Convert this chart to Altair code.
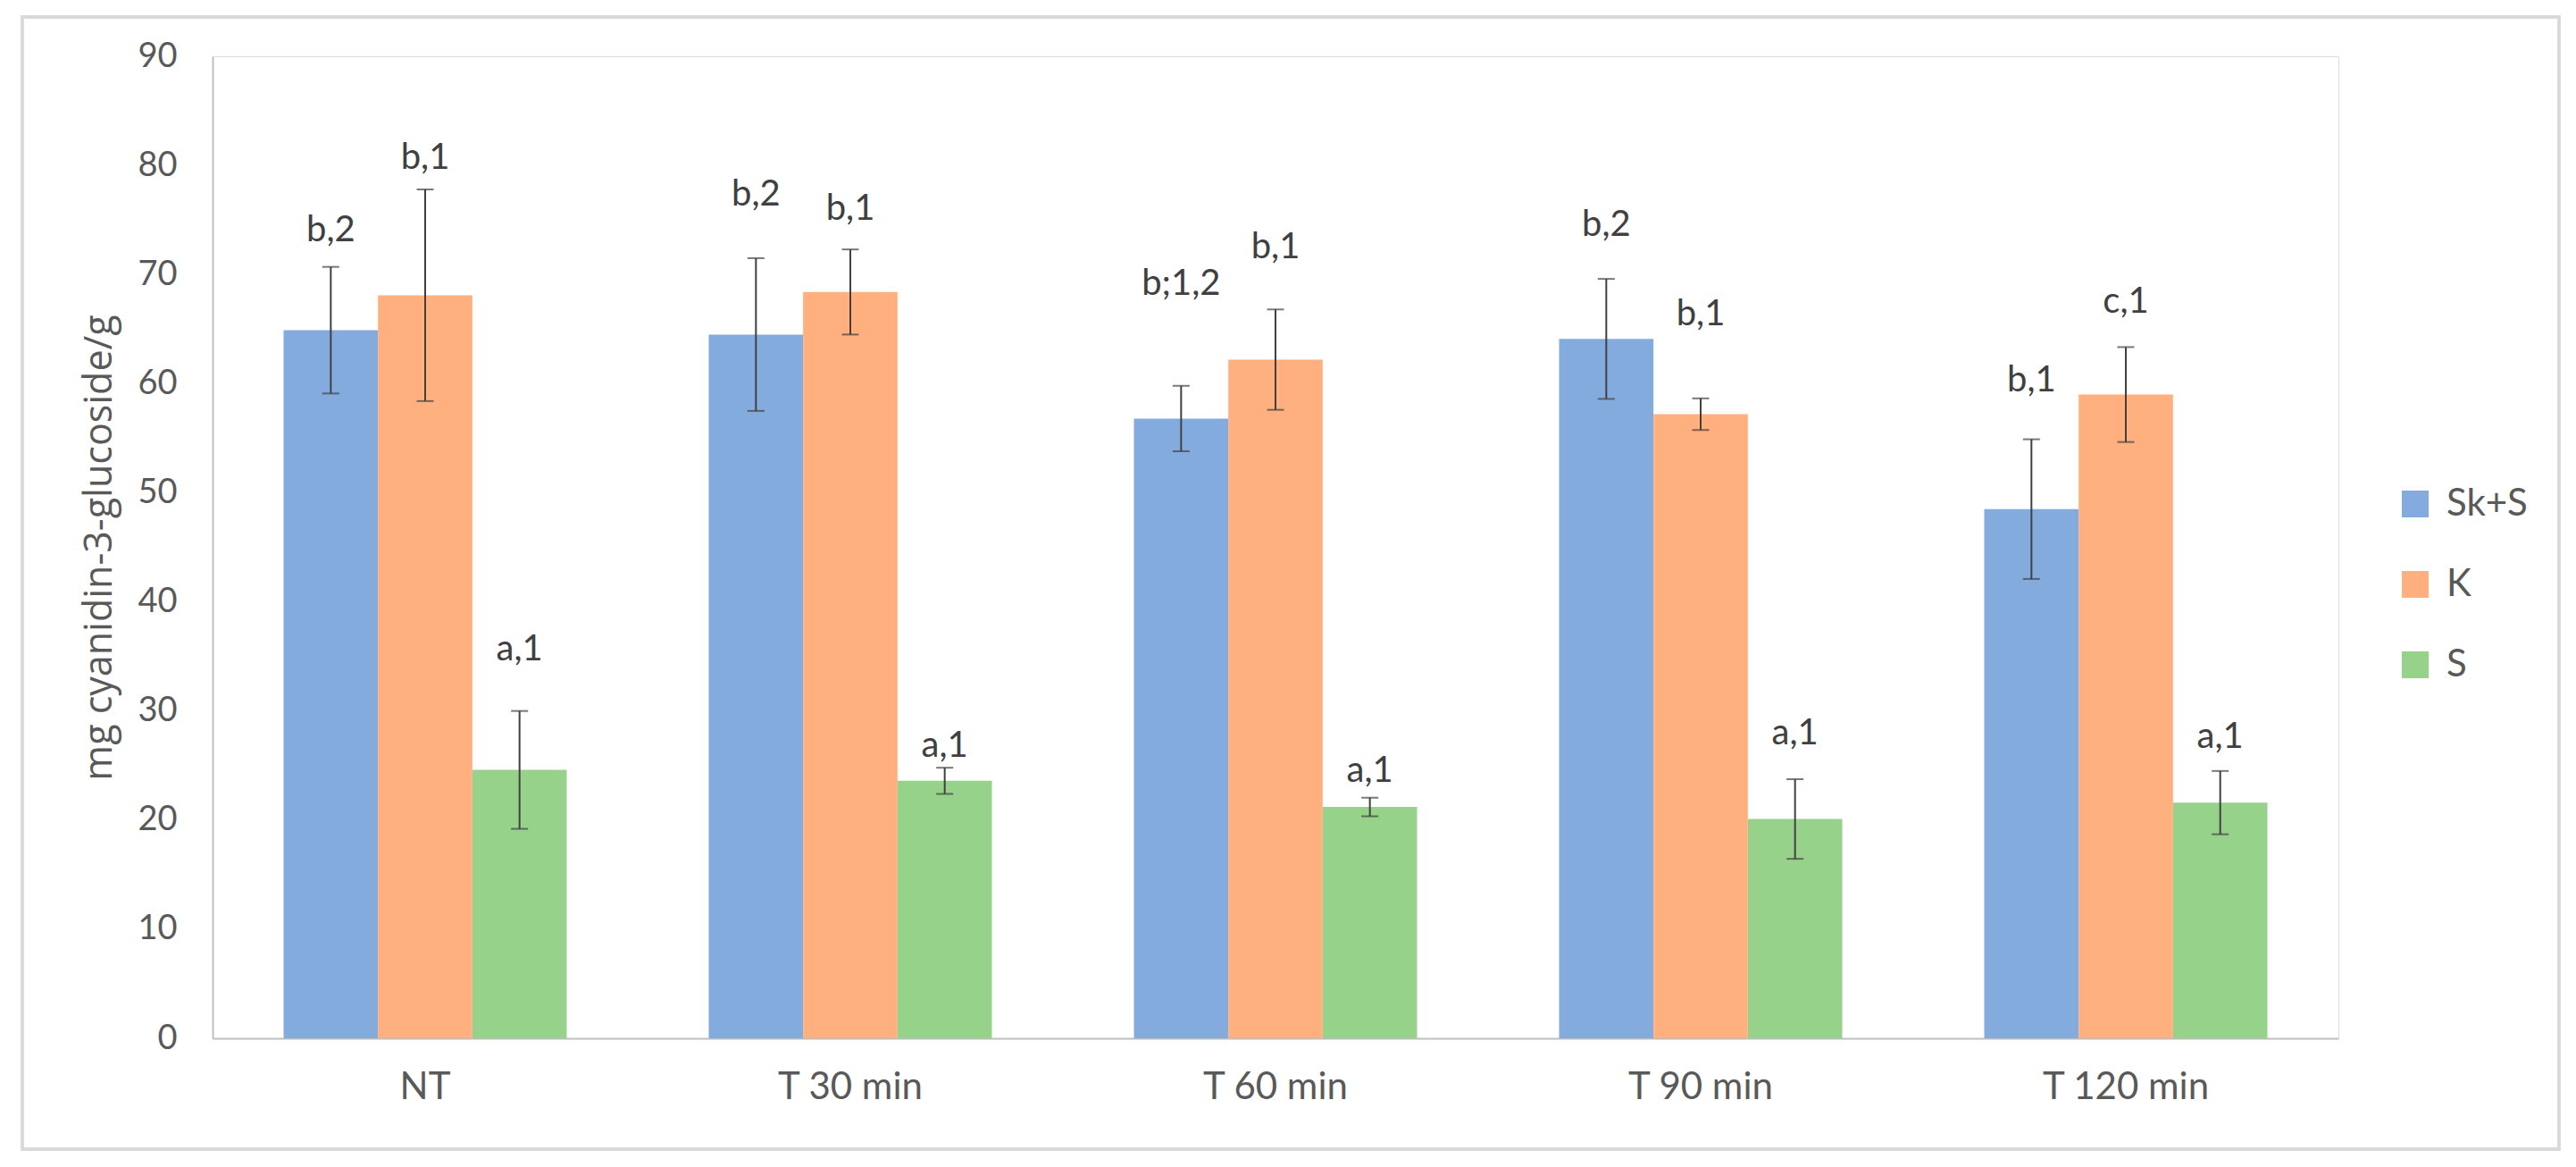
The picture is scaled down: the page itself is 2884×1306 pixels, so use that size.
import altair as alt
import pandas as pd

categories = ["NT", "T 30 min", "T 60 min", "T 90 min", "T 120 min"]
series = ["Sk+S", "K", "S"]
colors = ["#84ABDD", "#FFB07E", "#97D28A"]

sks_mean = [64.9, 64.5, 56.8, 64.1, 48.5]
sks_err = [5.8, 7.0, 3.0, 5.5, 6.4]
k_mean = [68.1, 68.4, 62.2, 57.2, 59.0]
k_err = [9.7, 3.9, 4.6, 1.45, 4.35]
s_mean = [24.6, 23.6, 21.2, 20.1, 21.6]
s_err = [5.4, 1.2, 0.85, 3.65, 2.9]

# significance letters and the height they sit at
sks_labels = ["b,2", "b,2", "b;1,2", "b,2", "b,1"]
sks_label_y = [74.0, 77.3, 69.1, 74.5, 60.3]
k_labels = ["b,1", "b,1", "b,1", "b,1", "c,1"]
k_label_y = [80.7, 76.0, 72.5, 66.3, 67.5]
s_labels = ["a,1", "a,1", "a,1", "a,1", "a,1"]
s_label_y = [35.6, 26.8, 24.5, 27.9, 27.6]

rows = []
for name, means, errs, labels, label_y in [
    ("Sk+S", sks_mean, sks_err, sks_labels, sks_label_y),
    ("K", k_mean, k_err, k_labels, k_label_y),
    ("S", s_mean, s_err, s_labels, s_label_y),
]:
    for cat, m, e, lab, ly in zip(categories, means, errs, labels, label_y):
        rows.append(
            {
                "Time": cat,
                "Sample": name,
                "Value": m,
                "Low": m - e,
                "High": m + e,
                "Label": lab,
                "LabelY": ly,
            }
        )
df = pd.DataFrame(rows)

FONT = "Lato"

x_enc = alt.X(
    "Time:N",
    sort=categories,
    scale=alt.Scale(paddingInner=0.334, paddingOuter=0.167),
    axis=alt.Axis(
        title=None,
        labelAngle=0,
        labelFont=FONT,
        labelFontSize=42,
        labelColor="#595959",
        labelPadding=34,
        labelLimit=0,
        ticks=False,
        domainColor="#BFBFBF",
        domainWidth=2,
    ),
)
offset_enc = alt.XOffset("Sample:N", sort=series, scale=alt.Scale(paddingInner=0, paddingOuter=0))

bars = (
    alt.Chart(df)
    .mark_bar()
    .encode(
        x=x_enc,
        xOffset=offset_enc,
        y=alt.Y(
            "Value:Q",
            scale=alt.Scale(domain=[0, 90], nice=False),
            axis=alt.Axis(
                title="mg cyanidin-3-glucoside/g",
                titleFont="Open Sans",
                titleFontSize=43,
                titleFontWeight="normal",
                titleColor="#595959",
                titlePadding=20,
                values=list(range(0, 91, 10)),
                labelFont=FONT,
                labelFontSize=38,
                labelColor="#595959",
                labelPadding=40,
                ticks=False,
                grid=False,
                domainColor="#BFBFBF",
                domainWidth=2,
            ),
        ),
        color=alt.Color(
            "Sample:N",
            sort=series,
            scale=alt.Scale(domain=series, range=colors),
            legend=alt.Legend(
                title=None,
                orient="none",
                legendX=2445,
                legendY=480,
                symbolType="square",
                symbolSize=900,
                symbolStrokeWidth=0,
                labelFont=FONT,
                labelFontSize=42,
                labelColor="#595959",
                labelOffset=14,
                rowPadding=48,
                padding=0,
            ),
        ),
    )
)

err_lines = (
    alt.Chart(df)
    .mark_rule(color="#404040", strokeWidth=2)
    .encode(x=x_enc, xOffset=offset_enc, y="Low:Q", y2="High:Q")
)
cap_low = (
    alt.Chart(df)
    .mark_tick(color="#404040", thickness=2, size=19)
    .encode(x=x_enc, xOffset=offset_enc, y="Low:Q")
)
cap_high = (
    alt.Chart(df)
    .mark_tick(color="#404040", thickness=2, size=19)
    .encode(x=x_enc, xOffset=offset_enc, y="High:Q")
)

labels = (
    alt.Chart(df)
    .mark_text(font=FONT, fontSize=40, color="#404040", baseline="middle", align="center")
    .encode(x=x_enc, xOffset=offset_enc, y="LabelY:Q", text="Label:N")
)

frame = (
    alt.Chart(df)
    .mark_rect(fill=None, stroke="#D9D9D9", strokeWidth=3)
    .encode(x=alt.value(-213), x2=alt.value(2627), y=alt.value(-44), y2=alt.value(1223))
)

chart = (
    alt.layer(frame, bars, err_lines, cap_low, cap_high, labels)
    .properties(
        width=2380,
        height=1099,
        padding={"left": 230, "top": 55, "right": 250, "bottom": 130},
        autosize=alt.AutoSizeParams(type="none"),
    )
    .configure_view(stroke=None)
    .configure(background="white")
)

chart.save("out.html", embed_options={"renderer": "svg", "actions": False})
